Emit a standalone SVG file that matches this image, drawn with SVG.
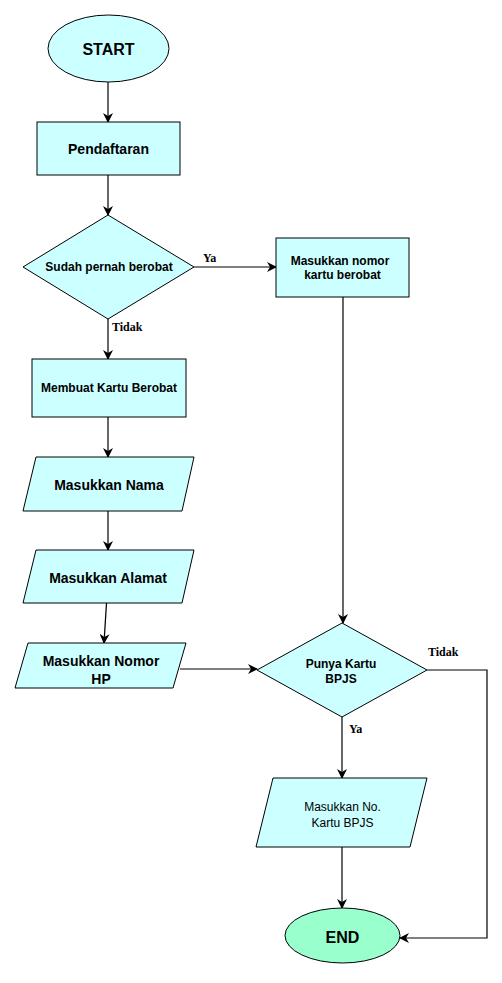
<svg xmlns="http://www.w3.org/2000/svg" width="502" height="983" viewBox="0 0 502 983">
<defs>
<marker id="arr" markerWidth="10" markerHeight="10" refX="9" refY="5" orient="auto" markerUnits="userSpaceOnUse">
<path d="M0,0 L10,5 L0,10 L3,5 Z" fill="#000"/>
</marker>
<style>
.n{fill:#ccffff;stroke:#000;stroke-width:1}
.t{font-family:"Liberation Sans",Arial,sans-serif;font-weight:bold;fill:#000;text-anchor:middle;dominant-baseline:central}
.l{font-family:"Liberation Serif","Times New Roman",serif;font-weight:bold;font-size:12px;fill:#000}
.c{fill:none;stroke:#000;stroke-width:1.2;marker-end:url(#arr)}
</style>
</defs>
<rect width="502" height="983" fill="#fff"/>
<g id="connectors">
<line class="c" x1="108" y1="82" x2="108" y2="122"/>
<line class="c" x1="108" y1="175" x2="108" y2="215"/>
<line class="c" x1="194" y1="267" x2="276" y2="267"/>
<line class="c" x1="108" y1="319" x2="108" y2="359"/>
<line class="c" x1="343" y1="297" x2="343" y2="623"/>
<line class="c" x1="108" y1="417" x2="108" y2="457"/>
<line class="c" x1="108" y1="511" x2="108" y2="550"/>
<line class="c" x1="106.5" y1="603" x2="104" y2="643"/>
<line class="c" x1="180" y1="669" x2="257" y2="669"/>
<line class="c" x1="342" y1="717" x2="342" y2="778"/>
<line class="c" x1="342" y1="847" x2="342" y2="908"/>
<polyline class="c" points="427,670 487,670 487,938 400,938"/>
<text class="l" x="203" y="262">Ya</text>
<text class="l" x="112" y="331">Tidak</text>
<text class="l" x="428" y="656">Tidak</text>
<text class="l" x="349" y="733">Ya</text>
</g>
<g id="start">
<ellipse class="n" cx="108.5" cy="48.5" rx="60.5" ry="33.5"/>
<text class="t" x="108.5" y="49" font-size="16">START</text>
</g>
<g id="pendaftaran">
<rect class="n" x="37" y="122" width="143" height="53"/>
<text class="t" x="108.5" y="149" font-size="14">Pendaftaran</text>
</g>
<g id="sudah">
<polygon class="n" points="108,215 194,267 108,319 23,267"/>
<text class="t" x="109" y="267" font-size="12">Sudah pernah berobat</text>
</g>
<g id="nomor-kartu">
<rect class="n" x="276" y="238" width="133" height="59"/>
<text class="t" x="340" y="261" font-size="12">Masukkan nomor</text>
<text class="t" x="342.5" y="275" font-size="12">kartu berobat</text>
</g>
<g id="membuat">
<rect class="n" x="32" y="359" width="154" height="58"/>
<text class="t" x="109" y="388" font-size="12">Membuat Kartu Berobat</text>
</g>
<g id="nama">
<polygon class="n" points="36,457 194,457 182,511 23,511"/>
<text class="t" x="109" y="485" font-size="14">Masukkan Nama</text>
</g>
<g id="alamat">
<polygon class="n" points="36,550 194,550 182,603 23,603"/>
<text class="t" x="108" y="578" font-size="14">Masukkan Alamat</text>
</g>
<g id="hp">
<polygon class="n" points="28,643 186,643 173,688 15,688"/>
<text class="t" x="101" y="661" font-size="14">Masukkan Nomor</text>
<text class="t" x="101" y="679" font-size="14">HP</text>
</g>
<g id="bpjs">
<polygon class="n" points="342,623 427,670 342,717 257,670"/>
<text class="t" x="341" y="664" font-size="12">Punya Kartu</text>
<text class="t" x="341" y="679" font-size="12">BPJS</text>
</g>
<g id="no-bpjs">
<polygon class="n" points="273,778 427,778 410,847 256,847"/>
<text class="t" x="342.5" y="807" font-size="12" style="font-weight:normal">Masukkan No.</text>
<text class="t" x="342.5" y="823" font-size="12" style="font-weight:normal">Kartu BPJS</text>
</g>
<g id="end">
<ellipse cx="342.5" cy="935.5" rx="57.5" ry="27.5" fill="#99ffcc" stroke="#000" stroke-width="1"/>
<text class="t" x="342.5" y="937" font-size="16">END</text>
</g>
</svg>
